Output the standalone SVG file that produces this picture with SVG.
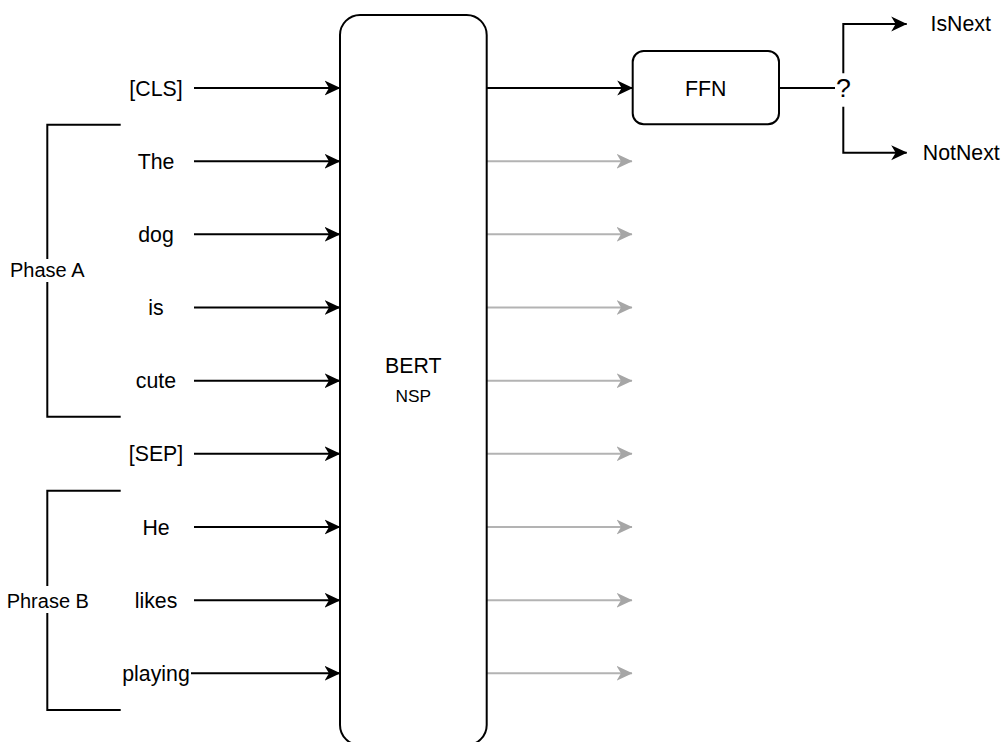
<svg xmlns="http://www.w3.org/2000/svg" width="1003" height="742" viewBox="0 0 1003 742">
  <style>
    .t { font-family: "Liberation Sans", Arial, sans-serif; fill: #000; }
    .tok { font-size: 21.3px; text-anchor: middle; }
    .lbl { font-size: 20px; text-anchor: middle; }
    .box { fill: #fff; stroke: #000; stroke-width: 2; }
    .in { stroke: #000; stroke-width: 2; fill: none; }
    .out { stroke: #b3b3b3; stroke-width: 2; fill: none; }
    .br { stroke: #000; stroke-width: 2; fill: none; }
  </style>
  <defs>
    <marker id="ab" markerUnits="userSpaceOnUse" markerWidth="16" markerHeight="16" viewBox="0 0 16 16" refX="15.5" refY="8" orient="auto">
      <path d="M0,0.5 L16,8 L0,15.5 L4.5,8 Z" fill="#000"/>
    </marker>
    <marker id="ag" markerUnits="userSpaceOnUse" markerWidth="16" markerHeight="16" viewBox="0 0 16 16" refX="15.5" refY="8" orient="auto">
      <path d="M0,0.5 L16,8 L0,15.5 L4.5,8 Z" fill="#a6a6a6"/>
    </marker>
  </defs>

  <g id="brackets">
    <path class="br" d="M120.7,124.7 H47.3 V259 M47.3,282 V416.7 H120.7"/>
    <path class="br" d="M120.7,490.7 H47.3 V586 M47.3,613 V710 H120.7"/>
  </g>
  <g id="phaseA"><text class="t lbl" x="47.3" y="277.3">Phase A</text></g>
  <g id="phraseB"><text class="t lbl" x="47.8" y="607.7">Phrase B</text></g>

  <g id="connectors">
    <path class="in" d="M194,88 H340" marker-end="url(#ab)"/>
    <path class="in" d="M194,161.2 H340" marker-end="url(#ab)"/>
    <path class="in" d="M194,234.3 H340" marker-end="url(#ab)"/>
    <path class="in" d="M194,307.5 H340" marker-end="url(#ab)"/>
    <path class="in" d="M194,380.7 H340" marker-end="url(#ab)"/>
    <path class="in" d="M194,453.8 H340" marker-end="url(#ab)"/>
    <path class="in" d="M194,527 H340" marker-end="url(#ab)"/>
    <path class="in" d="M194,600.2 H340" marker-end="url(#ab)"/>
    <path class="in" d="M191,673.3 H340" marker-end="url(#ab)"/>

    <path class="in" d="M487,88 H632.7" marker-end="url(#ab)"/>
    <path class="out" d="M487,161.2 H632" marker-end="url(#ag)"/>
    <path class="out" d="M487,234.3 H632" marker-end="url(#ag)"/>
    <path class="out" d="M487,307.5 H632" marker-end="url(#ag)"/>
    <path class="out" d="M487,380.7 H632" marker-end="url(#ag)"/>
    <path class="out" d="M487,453.8 H632" marker-end="url(#ag)"/>
    <path class="out" d="M487,527 H632" marker-end="url(#ag)"/>
    <path class="out" d="M487,600.2 H632" marker-end="url(#ag)"/>
    <path class="out" d="M487,673.3 H632" marker-end="url(#ag)"/>

    <path class="in" d="M779,88 H835"/>
    <path class="in" d="M843.3,73.3 V24 H906.7" marker-end="url(#ab)"/>
    <path class="in" d="M843.3,106.7 V152.7 H906.7" marker-end="url(#ab)"/>
    <text class="t" x="843.3" y="97.3" font-size="26.7" text-anchor="middle">?</text>
  </g>

  <g id="bert">
    <rect class="box" x="340" y="15" width="146.7" height="730" rx="20" ry="20"/>
    <text class="t" x="413.3" y="373.3" font-size="21.3" text-anchor="middle">BERT</text>
    <text class="t" x="413.3" y="401.7" font-size="17.3" text-anchor="middle">NSP</text>
  </g>

  <g id="ffn">
    <rect class="box" x="632.7" y="51" width="146.3" height="73.3" rx="11" ry="11"/>
    <text class="t tok" x="705.8" y="95.5">FFN</text>
  </g>

  <g id="tok-cls"><text class="t tok" x="156" y="95.5">[CLS]</text></g>
  <g id="tok-the"><text class="t tok" x="156" y="168.7">The</text></g>
  <g id="tok-dog"><text class="t tok" x="156" y="241.8">dog</text></g>
  <g id="tok-is"><text class="t tok" x="156" y="315">is</text></g>
  <g id="tok-cute"><text class="t tok" x="156" y="388.2">cute</text></g>
  <g id="tok-sep"><text class="t tok" x="156" y="461.3">[SEP]</text></g>
  <g id="tok-he"><text class="t tok" x="156" y="534.5">He</text></g>
  <g id="tok-likes"><text class="t tok" x="156" y="607.7">likes</text></g>
  <g id="tok-playing"><text class="t tok" x="156" y="680.8">playing</text></g>

  <g id="isnext"><text class="t tok" x="960.7" y="30.5">IsNext</text></g>
  <g id="notnext"><text class="t tok" x="961.3" y="159.8">NotNext</text></g>
</svg>
